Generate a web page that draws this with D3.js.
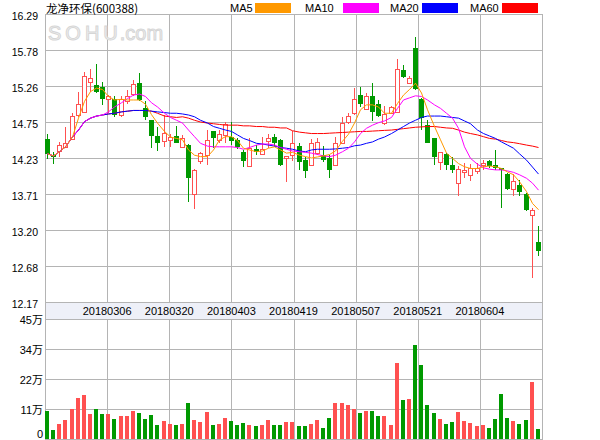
<!DOCTYPE html>
<html><head><meta charset="utf-8">
<script src="https://cdn.jsdelivr.net/npm/d3@7/dist/d3.min.js"></script>
<style>body{margin:0;background:#fff}svg{display:block}</style>
</head><body>
<svg id="c" width="600" height="440"></svg>
<script>
const title = "龙净环保(600388)";
const dates = ["20180213","20180214","20180222","20180223","20180226","20180227","20180228","20180301","20180302","20180305",
"20180306","20180307","20180308","20180309","20180312","20180313","20180314","20180315","20180316","20180319",
"20180320","20180321","20180322","20180323","20180326","20180327","20180328","20180329","20180330","20180402",
"20180403","20180404","20180409","20180410","20180411","20180412","20180413","20180416","20180417","20180418",
"20180419","20180420","20180423","20180424","20180425","20180426","20180427","20180502","20180503","20180504",
"20180507","20180508","20180509","20180510","20180511","20180514","20180515","20180516","20180517","20180518",
"20180521","20180522","20180523","20180524","20180525","20180528","20180529","20180530","20180531","20180601",
"20180604","20180605","20180606","20180607","20180608","20180611","20180612","20180613","20180614","20180615",
"20180619"];
const open = [14.50,14.27,14.33,14.39,14.50,14.84,14.89,15.32,15.27,15.24,
15.07,15.07,14.84,15.05,15.14,15.31,14.94,14.77,14.54,14.47,
14.49,14.54,14.39,14.42,13.71,14.19,14.28,14.61,14.49,14.56,
14.53,14.49,14.31,14.11,14.36,14.29,14.47,14.53,14.49,14.225,
14.27,14.40,14.20,14.13,14.30,14.28,14.225,14.13,14.44,14.74,
14.87,15.13,14.93,15.12,15.00,14.73,14.88,14.89,15.49,15.30,
15.81,15.08,14.70,14.51,14.17,14.29,14.13,13.87,14.03,13.98,
14.05,14.13,14.19,14.13,14.08,14.00,13.78,13.84,13.72,13.41,
13.03];
const high = [14.57,14.32,14.46,14.68,14.87,15.18,15.46,15.51,15.57,15.32,
15.13,15.11,15.11,15.20,15.35,15.44,15.04,14.78,14.68,14.85,
14.58,14.69,14.56,14.43,14.07,14.32,14.63,14.62,14.63,14.75,
14.75,14.51,14.35,14.51,14.42,14.53,14.58,14.58,14.50,14.26,
14.61,14.44,14.25,14.50,14.52,14.40,14.27,14.53,14.82,14.87,
15.23,15.25,15.16,15.31,15.06,14.97,14.97,15.64,15.56,15.40,
15.96,15.09,14.77,14.52,14.32,14.30,14.25,14.11,14.16,14.15,
14.16,14.20,14.20,14.35,14.09,14.02,14.00,13.915,13.73,13.52,
13.26];
const low = [14.21,14.14,14.25,14.38,14.49,14.82,14.88,15.18,15.16,14.99,
14.87,14.81,14.82,15.00,15.12,15.04,14.77,14.38,14.33,14.39,
14.39,14.44,14.38,13.60,13.50,14.15,14.13,14.37,14.44,14.44,
14.42,14.36,14.10,14.10,14.27,14.27,14.37,14.39,14.12,13.88,
14.18,14.06,13.94,14.12,14.28,14.17,13.94,14.12,14.43,14.71,
14.85,14.96,14.92,14.76,14.81,14.70,14.87,14.88,15.37,15.29,
15.20,14.63,14.44,14.13,14.06,14.06,14.02,13.69,13.94,13.905,
14.00,14.06,14.08,14.06,13.51,13.77,13.68,13.68,13.47,12.52,
12.83];
const close = [14.29,14.24,14.41,14.44,14.83,15.00,15.40,15.37,15.17,15.07,
15.11,14.85,15.08,15.12,15.29,15.06,14.81,14.54,14.45,14.59,
14.53,14.45,14.51,13.94,14.06,14.30,14.49,14.51,14.58,14.72,
14.48,14.39,14.18,14.37,14.31,14.355,14.52,14.44,14.13,14.26,
14.45,14.17,14.05,14.44,14.46,14.20,14.06,14.45,14.735,14.83,
15.07,15.00,15.12,14.89,14.83,14.86,14.96,15.50,15.39,15.38,
15.21,14.80,14.45,14.24,14.32,14.13,14.06,14.07,14.06,14.08,
14.09,14.16,14.11,14.09,14.06,13.78,13.905,13.75,13.48,13.48,
12.90];
// volume in 万 (10k shares)
const volume = [10.6,3.4,5.6,7.1,11.3,15.4,16.5,9.4,11.3,9.4,
9.4,7.5,8.6,8.6,10.5,9.8,7.5,9.0,5.2,6.8,
5.6,5.2,5.6,13.5,7.1,6.4,10.1,5.2,5.6,7.9,
6.8,5.2,6.0,5.2,4.9,5.2,7.1,5.2,5.2,6.4,
6.4,4.9,4.9,5.6,7.1,4.1,7.9,13.5,13.5,12.75,
11.25,9.75,10.5,10.5,8.6,8.6,5.25,28.5,14.6,15.0,
35.25,27.75,12.75,9.75,7.5,5.6,6.4,10.1,6.75,6.0,
4.9,5.25,4.1,7.5,16.9,7.9,6.75,5.6,7.1,21.4,
3.75];
const ma5 = [14.29,14.26,14.32,14.39,14.53,14.80,15.04,15.18,15.23,15.21,
15.11,15.06,15.07,15.06,15.06,15.06,15.00,14.85,14.73,14.61,
14.53,14.51,14.49,14.345,14.27,14.25,14.25,14.345,14.49,14.535,
14.535,14.48,14.37,14.345,14.32,14.33,14.37,14.39,14.345,14.30,
14.31,14.27,14.25,14.23,14.245,14.26,14.28,14.33,14.47,14.57,
14.73,14.92,14.99,14.99,14.96,14.87,14.87,15.01,15.13,15.21,
15.30,15.16,14.92,14.68,14.49,14.30,14.225,14.15,14.105,14.08,
14.08,14.105,14.115,14.105,14.08,14.03,13.99,13.89,13.75,13.58,
13.49];
const ma10 = [14.29,14.26,14.32,14.39,14.53,14.63,14.75,14.80,14.83,14.845,
14.89,14.96,15.02,15.08,15.13,15.145,15.11,15.02,14.96,14.87,
14.81,14.77,14.73,14.63,14.535,14.44,14.40,14.39,14.39,14.39,
14.39,14.38,14.355,14.38,14.415,14.43,14.43,14.415,14.38,14.355,
14.33,14.32,14.31,14.30,14.28,14.26,14.25,14.27,14.32,14.37,
14.46,14.58,14.655,14.70,14.735,14.76,14.81,14.94,15.06,15.09,
15.12,15.11,15.06,14.99,14.94,14.87,14.80,14.655,14.39,14.225,
14.14,14.09,14.07,14.06,14.06,14.045,14.025,13.99,13.94,13.87,
13.77];
const ma20 = [14.29,14.26,14.32,14.39,14.53,14.63,14.75,14.80,14.83,14.845,
14.86,14.87,14.89,14.90,14.91,14.91,14.91,14.90,14.89,14.88,
14.87,14.87,14.86,14.845,14.82,14.77,14.73,14.68,14.655,14.63,
14.61,14.56,14.51,14.48,14.44,14.43,14.415,14.40,14.38,14.37,
14.355,14.33,14.32,14.345,14.355,14.355,14.355,14.36,14.37,14.38,
14.405,14.415,14.44,14.46,14.50,14.53,14.58,14.63,14.68,14.73,
14.77,14.81,14.83,14.83,14.83,14.82,14.81,14.80,14.76,14.72,
14.63,14.58,14.545,14.51,14.46,14.415,14.37,14.29,14.20,14.10,
14.00];
const ma60 = [14.29,14.26,14.32,14.39,14.53,14.63,14.75,14.80,14.83,14.845,
14.86,14.87,14.89,14.90,14.91,14.91,14.91,14.90,14.87,14.83,
14.82,14.81,14.82,14.80,14.77,14.745,14.73,14.72,14.71,14.70,
14.70,14.70,14.69,14.69,14.68,14.68,14.67,14.67,14.66,14.66,
14.62,14.60,14.59,14.58,14.58,14.58,14.585,14.59,14.595,14.60,
14.605,14.61,14.61,14.615,14.62,14.625,14.63,14.64,14.65,14.66,
14.67,14.675,14.68,14.68,14.67,14.66,14.655,14.63,14.60,14.58,
14.56,14.535,14.51,14.50,14.48,14.46,14.45,14.435,14.415,14.40,
14.38];
const priceTickLabels = ["16.29","15.78","15.26","14.75","14.23","13.71","13.20","12.68","12.17"];
const volTickValues = [45,33.75,22.5,11.25,0];
const volTickLabels = ["45万","34万","22万","11万","0"];
const dateTickLabels = ["20180306","20180320","20180403","20180419","20180507","20180521","20180604"];
const maNames = ["MA5","MA10","MA20","MA60"];
const maColors = ["#ff9900","#ff00ff","#0000ff","#ff0000"];

const UP = "#ff5050", DOWN = "#009900", GRID = "#b4b4b4";
const L = 45, R = 542, PT = 14, PB = 302, VT = 319, VB = 439;
const svg = d3.select("#c");

const x = d3.scaleBand().domain(dates).range([L, R]).padding(0);
const gx = d3.scaleLinear().domain([0, 8]).range([L, R]);
const priceVals = priceTickLabels.map(Number);
const y = d3.scaleLinear().domain([12.17, 16.29]).range([PB, PT]);
const yv = d3.scaleLinear().domain([0, 45]).range([VB, VT]);
const cx = d => Math.round(x(d));

// date band
svg.append("rect").attr("x", L).attr("y", PB).attr("width", R - L).attr("height", VT - PB).attr("fill", "#eef0f8");

const grid = svg.append("g").attr("stroke", GRID).attr("stroke-width", 1).attr("shape-rendering", "crispEdges");
grid.selectAll(".hp").data(priceVals).join("line")
  .attr("x1", L).attr("x2", R).attr("y1", d => Math.round(y(d)) + 0.5).attr("y2", d => Math.round(y(d)) + 0.5);
grid.selectAll(".hv").data(volTickValues).join("line")
  .attr("x1", L).attr("x2", R).attr("y1", d => Math.round(yv(d)) + 0.5).attr("y2", d => Math.round(yv(d)) + 0.5);
const ks = d3.range(0, 9);
grid.selectAll(".vp").data(ks).join("line")
  .attr("x1", d => Math.round(gx(d)) + 0.5).attr("x2", d => Math.round(gx(d)) + 0.5)
  .attr("y1", PT).attr("y2", PB + 0.5);
grid.selectAll(".vv").data(ks).join("line")
  .attr("x1", d => Math.round(gx(d)) + 0.5).attr("x2", d => Math.round(gx(d)) + 0.5)
  .attr("y1", VT).attr("y2", VB + 1);
[0, 8].forEach(k => grid.append("line")
  .attr("x1", Math.round(gx(k)) + 0.5).attr("x2", Math.round(gx(k)) + 0.5).attr("y1", PB).attr("y2", VT));

// watermark
const wm = svg.append("text").attr("x", 48).attr("y", 40).attr("font-family", "Liberation Sans, Arial, sans-serif")
  .attr("font-size", 20).attr("fill", "#f2f2f2").attr("stroke", "#d6d6d6").attr("stroke-width", 1);
wm.append("tspan").attr("letter-spacing", 4).text("SOHU");
wm.append("tspan").attr("dx", -2).text(".com");

// candles
const idx = d3.range(dates.length);
const cg = svg.append("g").attr("shape-rendering", "crispEdges");
idx.forEach(i => {
  const d = dates[i];
  const up = close[i] >= open[i];
  const col = up ? UP : DOWN;
  const xb = cx(d);
  cg.append("line").attr("x1", xb + 2.5).attr("x2", xb + 2.5)
    .attr("y1", y(high[i])).attr("y2", y(low[i])).attr("stroke", col).attr("stroke-width", 1);
  const top = y(Math.max(open[i], close[i])), bot = y(Math.min(open[i], close[i]));
  if (up) {
    cg.append("rect").attr("x", xb + 0.5).attr("y", Math.round(top) + 0.5).attr("width", 4)
      .attr("height", Math.max(1, Math.round(bot) - Math.round(top)))
      .attr("fill", "#fff").attr("stroke", col).attr("stroke-width", 1);
  } else {
    cg.append("rect").attr("x", xb).attr("y", Math.round(top)).attr("width", 5)
      .attr("height", Math.max(1, Math.round(bot) - Math.round(top))).attr("fill", col);
  }
});

// moving averages (MA60 first so shorter ones sit on top)
const maSeries = [ma5, ma10, ma20, ma60];
[3, 2, 1, 0].forEach(k => {
  const line = d3.line().x(i => cx(dates[i]) + 2.5).y(i => y(maSeries[k][i]))
    .defined(i => maSeries[k][i] != null);
  svg.append("path").attr("d", line(idx)).attr("fill", "none")
    .attr("stroke", maColors[k]).attr("stroke-width", 1);
});

// volume bars
svg.append("g").attr("shape-rendering", "crispEdges").selectAll("rect").data(idx).join("rect")
  .attr("x", i => cx(dates[i]))
  .attr("y", i => Math.round(yv(volume[i])))
  .attr("width", 4)
  .attr("height", i => VB - Math.round(yv(volume[i])))
  .attr("fill", i => close[i] >= open[i] ? UP : DOWN);

const axFont = "Liberation Sans, Arial, sans-serif";
svg.append("g").selectAll("text").data(priceTickLabels).join("text")
  .attr("x", 38).attr("y", d => y(+d) + 6).attr("text-anchor", "end")
  .attr("font-family", axFont).attr("font-size", 10.5).attr("fill", "#000").text(d => d);
svg.append("g").selectAll("text").data(volTickValues).join("text")
  .attr("x", 43).attr("y", d => Math.min(yv(d) + 5, 438)).attr("text-anchor", "end")
  .attr("font-family", "Liberation Sans, Noto Sans CJK SC, sans-serif").attr("font-size", 11).attr("fill", "#000")
  .text((d, j) => volTickLabels[j]);
svg.append("g").selectAll("text").data(dateTickLabels).join("text")
  .attr("x", (d, j) => gx(j + 1)).attr("y", 315).attr("text-anchor", "middle")
  .attr("font-family", axFont).attr("font-size", 11).attr("fill", "#000").text(d => d);

// title
svg.append("text").attr("x", 46).attr("y", 13).attr("font-family", "Noto Sans CJK SC, sans-serif")
  .attr("font-size", 11.5).attr("fill", "#000").text(title);

// legend
const legTextX = [230, 305, 390, 470], legBoxX = [255, 343, 422, 502];
maNames.forEach((n, k) => {
  svg.append("text").attr("x", legTextX[k]).attr("y", 12).attr("font-family", axFont)
    .attr("font-size", 11).attr("fill", "#000").text(n);
  svg.append("rect").attr("x", legBoxX[k]).attr("y", 3).attr("width", 36).attr("height", 10).attr("fill", maColors[k]);
});
</script>
</body></html>
